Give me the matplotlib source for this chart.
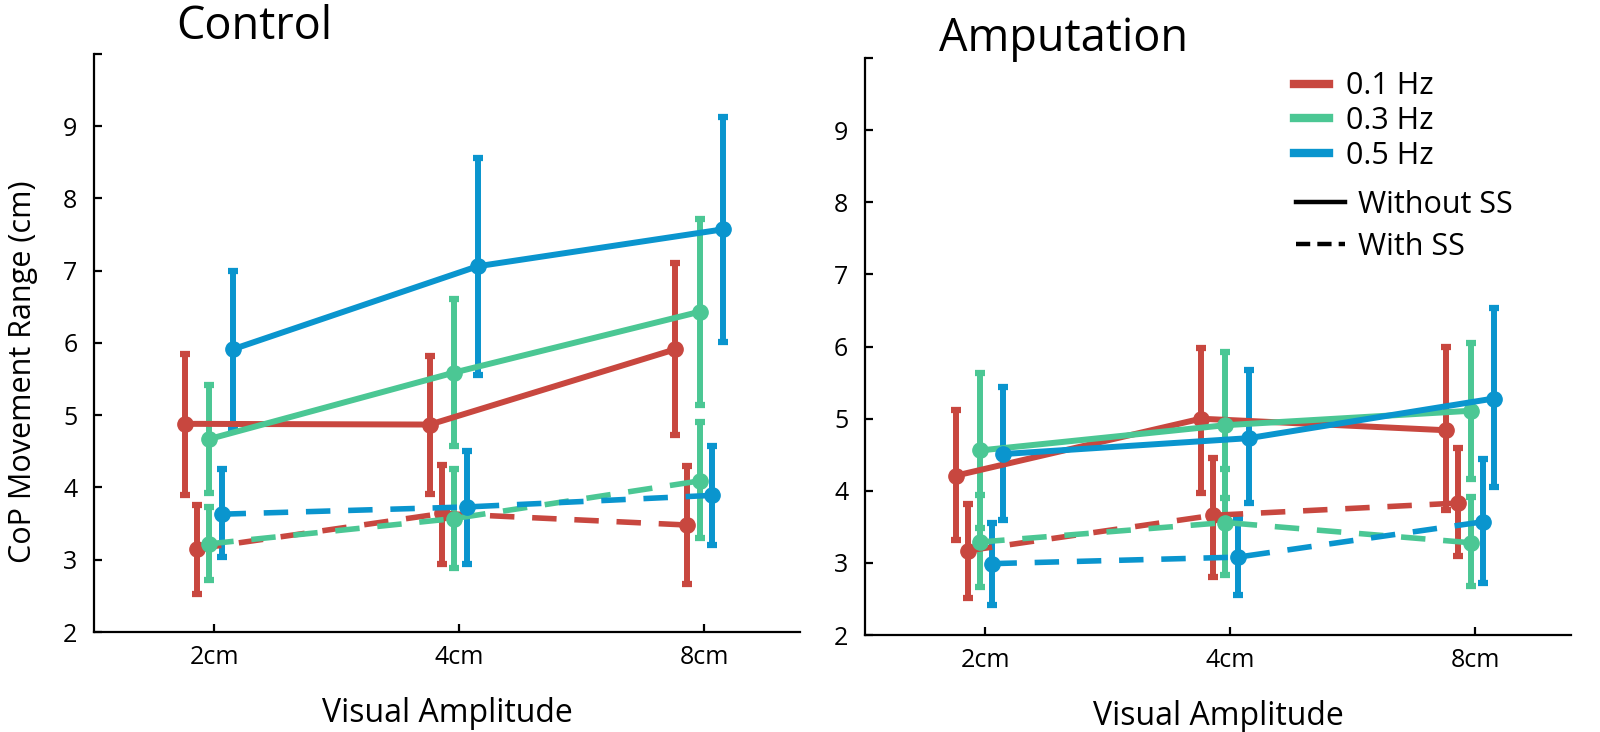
import numpy as np
import matplotlib.pyplot as plt
from matplotlib.lines import Line2D

plt.rcParams['font.family'] = ['Open Sans', 'DejaVu Sans']

amplitudes = ['2cm', '4cm', '8cm']
freqs = ['0.1 Hz', '0.3 Hz', '0.5 Hz']
colors = ['#C8473F', '#4BC794', '#0A95CE']

# Control group, rows = 0.1 / 0.3 / 0.5 Hz, columns = 2 / 4 / 8 cm
ctrl_nss = [[4.88, 4.87, 5.91], [4.67, 5.59, 6.43], [5.91, 7.06, 7.57]]
ctrl_nss_hi = [[5.85, 5.82, 7.10], [5.42, 6.61, 7.71], [7.00, 8.56, 9.13]]
ctrl_nss_lo = [[3.89, 3.91, 4.72], [3.92, 4.57, 5.14], [4.82, 5.56, 6.01]]
ctrl_ss = [[3.15, 3.64, 3.48], [3.22, 3.57, 4.09], [3.63, 3.73, 3.89]]
ctrl_ss_hi = [[3.76, 4.31, 4.29], [3.73, 4.26, 4.90], [4.25, 4.51, 4.58]]
ctrl_ss_lo = [[2.53, 2.94, 2.66], [2.72, 2.88, 3.30], [3.04, 2.94, 3.20]]

# Amputation group
amp_nss = [[4.21, 5.00, 4.84], [4.56, 4.91, 5.11], [4.51, 4.73, 5.28]]
amp_nss_hi = [[5.12, 5.98, 6.00], [5.63, 5.93, 6.05], [5.44, 5.67, 6.53]]
amp_nss_lo = [[3.32, 3.97, 3.73], [3.48, 3.90, 4.17], [3.60, 3.83, 4.05]]
amp_ss = [[3.17, 3.66, 3.83], [3.29, 3.56, 3.28], [2.99, 3.08, 3.57]]
amp_ss_hi = [[3.82, 4.45, 4.59], [3.94, 4.30, 3.92], [3.56, 3.62, 4.44]]
amp_ss_lo = [[2.51, 2.80, 3.10], [2.66, 2.83, 2.68], [2.42, 2.55, 2.72]]

# horizontal nudges so bars don't overlap
off_nss = [-0.12, -0.02, 0.075]
off_ss = [-0.07, -0.02, 0.03]

x = np.arange(1, len(amplitudes) + 1)

fig = plt.figure(figsize=(16, 7.32), dpi=100)
ax1 = fig.add_axes([0.0588, 0.1366, 0.4412, 0.790])
ax2 = fig.add_axes([0.5406, 0.1325, 0.4413, 0.788])


def draw(ax, nss, nss_hi, nss_lo, ss, ss_hi, ss_lo):
    for i in range(3):
        m = np.array(nss[i])
        err = [m - np.array(nss_lo[i]), np.array(nss_hi[i]) - m]
        ax.errorbar(x + off_nss[i], m, yerr=err, color=colors[i], lw=4.3,
                    elinewidth=4.3, capsize=3.5, capthick=4.5, marker='o', ms=11)
    for i in range(3):
        m = np.array(ss[i])
        err = [m - np.array(ss_lo[i]), np.array(ss_hi[i]) - m]
        eb = ax.errorbar(x + off_ss[i], m, yerr=err, color=colors[i], lw=4.0,
                         elinewidth=4.3, capsize=3.5, capthick=4.5, marker='o', ms=11)
        eb[0].set_dashes((4.4, 3.2))

    ax.set_xlim(0.51, 3.39)
    ax.set_ylim(2, 10)
    ax.set_xticks(x)
    ax.set_xticklabels(amplitudes)
    ax.set_yticks(range(2, 11))
    ax.set_yticklabels([str(v) for v in range(2, 10)] + [''])
    ax.spines['top'].set_visible(False)
    ax.spines['right'].set_visible(False)
    ax.spines['left'].set_linewidth(1.6)
    ax.spines['bottom'].set_linewidth(1.6)
    ax.tick_params(axis='both', direction='in', length=6, width=1.6, labelsize=18)
    ax.tick_params(axis='y', pad=12)
    ax.tick_params(axis='x', pad=9)
    ax.set_xlabel('Visual Amplitude', fontsize=23, labelpad=20)


draw(ax1, ctrl_nss, ctrl_nss_hi, ctrl_nss_lo, ctrl_ss, ctrl_ss_hi, ctrl_ss_lo)
draw(ax2, amp_nss, amp_nss_hi, amp_nss_lo, amp_ss, amp_ss_hi, amp_ss_lo)

ax1.set_ylabel('CoP Movement Range (cm)', fontsize=22)
ax1.yaxis.set_label_coords(-0.08, 0.45)

ax1.text(0.116, 1.025, 'Control', transform=ax1.transAxes, fontsize=32.5, va='baseline')
ax2.text(0.105, 1.012, 'Amputation', transform=ax2.transAxes, fontsize=32.5, va='baseline')

# legends
h_freq = [Line2D([], [], color=c, lw=6) for c in colors]
leg1 = ax2.legend(h_freq, freqs, loc='upper left', bbox_to_anchor=(0.608, 0.977),
                  frameon=False, fontsize=22, handlelength=1.15, handletextpad=0.55,
                  labelspacing=0.15, borderpad=0, borderaxespad=0)
ax2.add_artist(leg1)
h_style = [Line2D([], [], color='black', lw=3.2),
           Line2D([], [], color='black', lw=3.2, dashes=(3.2, 1.6))]
ax2.legend(h_style, ['Without SS', 'With SS'], loc='upper left',
           bbox_to_anchor=(0.611, 0.772), frameon=False, fontsize=22,
           handlelength=1.6, handletextpad=0.42, labelspacing=0.4,
           borderpad=0, borderaxespad=0)

plt.savefig('out.png', dpi=100)
